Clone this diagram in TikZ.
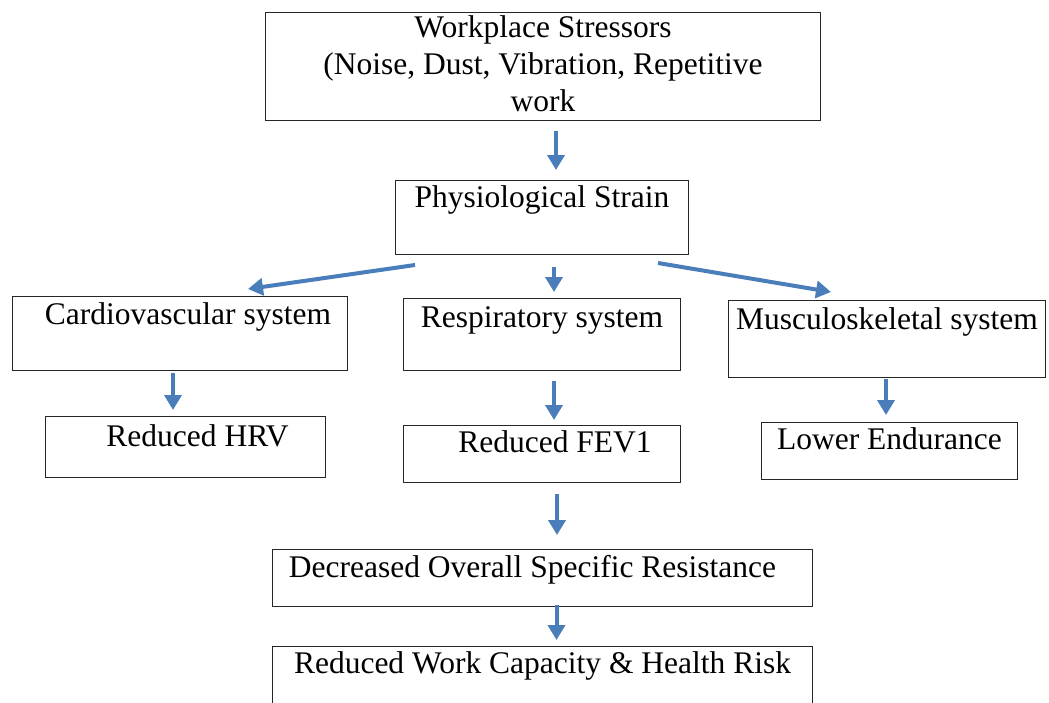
\documentclass[tikz,border=0pt]{standalone}
\usepackage{fontspec}
\setmainfont{Liberation Serif}
\usetikzlibrary{arrows.meta}
\definecolor{flowblue}{RGB}{74,126,187}

\begin{document}
\begin{tikzpicture}[x=1pt, y=-1pt,
  box/.style={draw=black!85, line width=1pt, anchor=north west, inner xsep=0pt, inner ysep=0pt,
    align=center, font=\fontsize{31.5}{37}\selectfont},
  flow/.style={draw=flowblue, line width=4pt, -{Triangle[width=17pt,length=15pt]}}]

\useasboundingbox (0,0) rectangle (1049,702);

\node[box, minimum width=555pt, text height=99pt, text depth=9pt] (stress) at (265,12) {Workplace Stressors\\ (Noise, Dust, Vibration, Repetitive\\ work};
\node[box, minimum width=293pt, text height=27pt, text depth=47pt] (strain) at (395,180) {Physiological Strain};

\node[box, minimum width=335pt, text height=28pt, text depth=46pt] (cardio) at (12,296) {\hspace*{16pt}Cardiovascular system};
\node[box, minimum width=277pt, text height=29pt, text depth=43pt] (resp) at (403,298) {Respiratory system};
\node[box, minimum width=317pt, text height=29pt, text depth=48pt] (musc) at (728,300) {Musculoskeletal system};

\node[box, minimum width=280pt, text height=30pt, text depth=31pt] (hrv) at (45,416) {\hspace*{24pt}Reduced HRV};
\node[box, minimum width=277pt, text height=27pt, text depth=30pt] (fev) at (403,425) {\hspace*{26pt}Reduced FEV1};
\node[box, minimum width=256pt, text height=27pt, text depth=30pt] (lower) at (761,422) {Lower Endurance};

\node[box, minimum width=540pt, text height=28pt, text depth=29pt] (dec) at (272,549) {\hspace*{-20pt}Decreased Overall Specific Resistance};
\node[box, minimum width=540pt, text height=27pt, text depth=40pt] (work) at (272,646) {Reduced Work Capacity \& Health Risk};% runs off the bottom edge

\draw[flow, shorten <=10pt, shorten >=10pt] ([xshift=13pt]stress.south) -- ([xshift=13pt]stress.south |- strain.north);
\draw[flow] ([xshift=20pt,yshift=-10pt]strain.south west) -- ([xshift=68pt,yshift=7pt]cardio.north);
\draw[flow, shorten <=12pt, shorten >=6pt] ([xshift=12pt]strain.south) -- ([xshift=12pt]strain.south |- resp.north);
\draw[flow] ([xshift=-31pt,yshift=-8pt]strain.south east) -- ([xshift=-56pt,yshift=8pt]musc.north);

\draw[flow, shorten <=2pt, shorten >=6pt] ([xshift=-7pt]cardio.south) -- ([xshift=-7pt]cardio.south |- hrv.north);
\draw[flow, shorten <=10pt, shorten >=5pt] ([xshift=12pt]resp.south) -- ([xshift=12pt]resp.south |- fev.north);
\draw[flow, shorten <=1pt, shorten >=7pt] ([xshift=-1pt]musc.south) -- ([xshift=-1pt]musc.south |- lower.north);

\draw[flow, shorten <=11pt, shorten >=14pt] ([xshift=15pt]fev.south) -- ([xshift=15pt]fev.south |- dec.north);
\draw[flow, shorten <=-2pt, shorten >=6pt] ([xshift=14pt]dec.south) -- ([xshift=14pt]dec.south |- work.north);
\end{tikzpicture}
\end{document}
